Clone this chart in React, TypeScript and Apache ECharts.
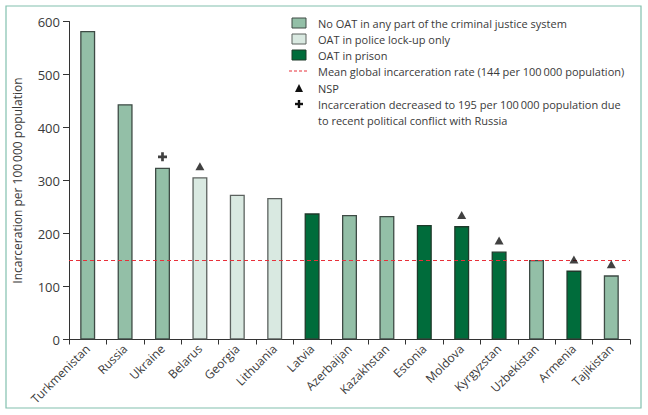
import React, { useEffect, useRef } from "react";
import * as echarts from "echarts";

const categories = [
  "Turkmenistan", "Russia", "Ukraine", "Belarus", "Georgia", "Lithuania", "Latvia",
  "Azerbaijan", "Kazakhstan", "Estonia", "Moldova", "Kyrgyzstan", "Uzbekistan", "Armenia", "Tajikistan",
];
const rates = [582, 444, 324, 306, 273, 267, 238, 235, 233, 216, 214, 166, 150, 130, 121];
const oatStatus = [
  "none", "none", "none", "police", "police", "police", "prison",
  "none", "none", "prison", "prison", "prison", "none", "prison", "none",
];
const nspCountries = ["Belarus", "Moldova", "Kyrgyzstan", "Armenia", "Tajikistan"];
const decreasedCountries = ["Ukraine"];
const meanRate = 149;
const legendLabels = [
  "No OAT in any part of the criminal justice system",
  "OAT in police lock-up only",
  "OAT in prison",
  "Mean global incarceration rate (144 per 100\u2009000 population)",
  "NSP",
  "Incarceration decreased to 195 per 100\u2009000 population due",
  "to recent political conflict with Russia",
];
const yAxisTitle = "Incarceration per 100\u2009000 population";

const FONT = "'Open Sans', 'Noto Sans', sans-serif";
const TXT = "#3a3a3a";
const C_NONE = "#93bfa7";
const C_POLICE = "#d9e9e1";
const C_PRISON = "#006c3b";

export default function App() {
  const ref = useRef<HTMLDivElement>(null);
  useEffect(() => {
    document.body.style.margin = "0";
    const chart = echarts.init(ref.current!, null, { renderer: "svg" });
    const mask = (k: string) => rates.map((v, i) => (oatStatus[i] === k ? v : null));
    const barBase = {
      type: "bar",
      barWidth: 15,
      barGap: "-100%",
      silent: true,
    };
    const lx = 292;
    const tx = 318;
    const rows = [23, 39, 55, 71, 88, 104, 120];
    const legendText = legendLabels.map((t, i) => ({
      type: "text",
      x: tx,
      y: rows[i],
      style: { text: t, fill: TXT, font: `11px ${FONT}`, textVerticalAlign: "middle" },
    }));
    const option = {
      animation: false,
      textStyle: { fontFamily: FONT },
      grid: { left: 69, right: 18, top: 21.5, bottom: 75.5 },
      xAxis: {
        type: "category",
        data: categories,
        axisLine: { lineStyle: { color: "#333", width: 1 } },
        axisTick: { show: true, length: 5, lineStyle: { color: "#333" } },
        axisLabel: { rotate: 45, interval: 0, fontSize: 12, color: TXT, margin: 7, fontFamily: FONT },
      },
      yAxis: {
        type: "value",
        min: 0,
        max: 600,
        interval: 100,
        name: yAxisTitle,
        nameLocation: "middle",
        nameGap: 46,
        nameTextStyle: { fontSize: 12, color: TXT, fontFamily: FONT },
        axisLine: { show: true, lineStyle: { color: "#333", width: 1 } },
        axisTick: { show: true, length: 6, lineStyle: { color: "#333" } },
        splitLine: { show: false },
        axisLabel: { fontSize: 13, color: TXT, margin: 9, fontFamily: FONT },
      },
      series: [
        {
          ...barBase,
          name: "none",
          data: mask("none"),
          itemStyle: { color: C_NONE, borderColor: "#3e4b45", borderWidth: 1.3 },
          markLine: {
            silent: true,
            symbol: "none",
            label: { show: false },
            lineStyle: { color: "#e8303a", type: [4, 3], width: 1.2 },
            data: [{ yAxis: meanRate }],
          },
        },
        {
          ...barBase,
          name: "police",
          data: mask("police"),
          itemStyle: { color: C_POLICE, borderColor: "#5c625f", borderWidth: 1.3 },
        },
        {
          ...barBase,
          name: "prison",
          data: mask("prison"),
          itemStyle: { color: C_PRISON, borderColor: "#1e3a2b", borderWidth: 1.3 },
        },
        {
          type: "scatter",
          name: "NSP",
          symbol: "triangle",
          symbolSize: [9, 8],
          symbolOffset: [0, -11],
          itemStyle: { color: "#111" },
          silent: true,
          z: 5,
          data: categories.map((c, i) => (nspCountries.includes(c) ? rates[i] : null)),
        },
        {
          type: "scatter",
          name: "decreased",
          symbol: "path://M3.5,0h3v3.5h3.5v3h-3.5v3.5h-3v-3.5h-3.5v-3h3.5z",
          symbolSize: 9,
          symbolOffset: [0, -11],
          itemStyle: { color: "#111" },
          silent: true,
          z: 5,
          data: categories.map((c, i) => (decreasedCountries.includes(c) ? rates[i] : null)),
        },
      ],
      graphic: [
        {
          type: "rect",
          shape: { x: 6, y: 6, width: 635, height: 402 },
          style: { fill: "none", stroke: "#82c0ae", lineWidth: 1.2 },
          silent: true,
        },
        { type: "rect", shape: { x: lx, y: rows[0] - 5, width: 14, height: 10 }, style: { fill: C_NONE, stroke: "#3e4b45", lineWidth: 1 } },
        { type: "rect", shape: { x: lx, y: rows[1] - 5, width: 14, height: 10 }, style: { fill: C_POLICE, stroke: "#5c625f", lineWidth: 1 } },
        { type: "rect", shape: { x: lx, y: rows[2] - 5, width: 14, height: 10 }, style: { fill: C_PRISON, stroke: "#1e3a2b", lineWidth: 1 } },
        {
          type: "line",
          shape: { x1: lx - 3, y1: rows[3], x2: lx + 17, y2: rows[3] },
          style: { stroke: "#e8303a", lineWidth: 1.2, lineDash: [3, 2] },
        },
        {
          type: "polygon",
          shape: { points: [[lx + 3, rows[4] + 4], [lx + 11, rows[4] + 4], [lx + 7, rows[4] - 4]] },
          style: { fill: "#111" },
        },
        { type: "rect", shape: { x: lx + 3, y: rows[5] - 1.2, width: 8, height: 2.4 }, style: { fill: "#111" } },
        { type: "rect", shape: { x: lx + 5.8, y: rows[5] - 4, width: 2.4, height: 8 }, style: { fill: "#111" } },
        ...legendText,
      ],
    };
    chart.setOption(option as any);
    return () => chart.dispose();
  }, []);
  return <div ref={ref} style={{ width: 648, height: 415 }} />;
}
